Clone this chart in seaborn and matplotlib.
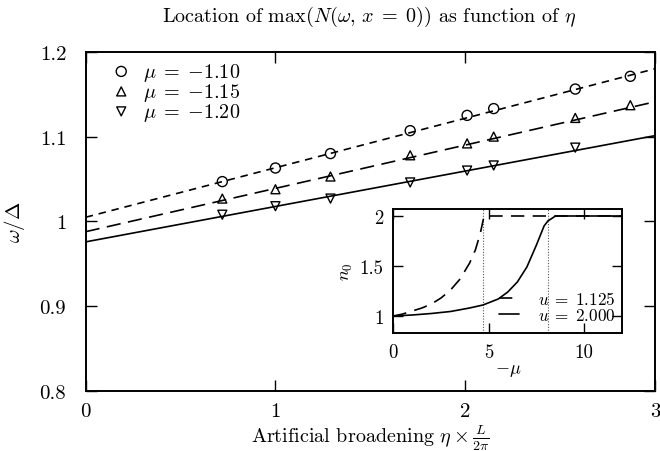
import numpy as np
import pandas as pd
import matplotlib
matplotlib.use("Agg")
import matplotlib.pyplot as plt
from matplotlib.ticker import FuncFormatter, FixedLocator
import seaborn as sns

# --- measured peak positions ---------------------------------------------
eta = [0.72, 1.00, 1.29, 1.71, 2.01, 2.15, 2.58, 2.87]
peak_mu110 = [1.047, 1.063, 1.080, 1.107, 1.125, 1.133, 1.156, 1.171]
peak_mu115 = [1.027, 1.038, 1.053, 1.078, 1.092, 1.100, 1.122, 1.137]
peak_mu120 = [1.008, 1.018, 1.027, 1.046, 1.060, 1.066, 1.087]
series_labels = [r"$\mu\;=\;{-}1.10$", r"$\mu\;=\;{-}1.15$", r"$\mu\;=\;{-}1.20$"]

# linear fits omega/Delta = a + b * eta
fit_intercept = [1.005, 0.988, 0.976]
fit_slope = [0.0583, 0.0510, 0.0417]

# --- inset: occupation n0 versus -mu ------------------------------------
inset_x_u1 = [0.0, 0.5, 1.0, 1.5, 2.0, 2.5, 3.0, 3.5, 4.0, 4.3, 4.55, 4.7, 4.75, 12.0]
inset_n_u1 = [1.0, 1.02, 1.05, 1.08, 1.12, 1.18, 1.26, 1.37, 1.53, 1.66, 1.82, 1.95, 2.0, 2.0]
inset_x_u2 = [0.0, 1.0, 2.0, 3.0, 4.0, 4.7, 5.5, 6.0, 6.5, 7.0, 7.5, 7.9, 8.1, 8.5, 12.0]
inset_n_u2 = [1.0, 1.01, 1.025, 1.045, 1.08, 1.11, 1.17, 1.24, 1.34, 1.49, 1.71, 1.90, 1.95, 2.0, 2.0]
inset_labels = [r"$u\;=\;1.125$", r"$u\;=\;2.000$"]
critical_mu = [4.7, 8.1]

sns.set_theme(style="ticks")
plt.rcParams.update({
    "font.family": ["cmr10"],
    "mathtext.fontset": "cm",
    "axes.formatter.use_mathtext": True,
    "axes.unicode_minus": True,
    "font.size": 14,
    "axes.linewidth": 1.4,
    "xtick.direction": "in",
    "ytick.direction": "in",
    "xtick.top": True,
    "ytick.right": True,
    "xtick.major.size": 8,
    "ytick.major.size": 8,
    "xtick.major.width": 1.0,
    "ytick.major.width": 1.0,
    "xtick.color": "black",
    "ytick.color": "black",
    "axes.edgecolor": "black",
    "text.color": "black",
    "axes.labelcolor": "black",
})

fig = plt.figure(figsize=(6.6, 4.52), dpi=100)
ax = fig.add_axes([0.1298, 0.1321, 0.8626, 0.7513])

# fitted lines
line_styles = [(0, (4.5, 3.5)), (0, (8.5, 4.5)), "-"]
xfit = np.array([0.0, 3.0])
for a, b, ls in zip(fit_intercept, fit_slope, line_styles):
    df = pd.DataFrame({"x": xfit, "y": a + b * xfit})
    sns.lineplot(data=df, x="x", y="y", ax=ax, color="black", lw=1.2,
                 linestyle=ls, legend=False)

# measured points
markers = ["o", "^", "v"]
sizes = [52, 42, 42]
for vals, mk, sz, lab in zip([peak_mu110, peak_mu115, peak_mu120],
                             markers, sizes, series_labels):
    df = pd.DataFrame({"x": eta[:len(vals)], "y": vals})
    sns.scatterplot(data=df, x="x", y="y", ax=ax, marker=mk, s=sz,
                    facecolor="none", edgecolor="black", linewidth=1.0,
                    label=lab, zorder=3)

ax.set_xlim(0, 3)
ax.set_ylim(0.8, 1.2)
ax.xaxis.set_major_locator(FixedLocator([0, 1, 2, 3]))
ax.yaxis.set_major_locator(FixedLocator([0.8, 0.9, 1.0, 1.1, 1.2]))
fmt = FuncFormatter(lambda v, p: "%g" % round(v, 3))
ax.xaxis.set_major_formatter(fmt)
ax.yaxis.set_major_formatter(fmt)
ax.tick_params(axis="y", labelsize=15, pad=14)
ax.tick_params(axis="x", labelsize=15, pad=8)
ax.set_xlabel(r"Artificial broadening $\eta \times \frac{L}{2\pi}$", fontsize=14.5, labelpad=1)
ax.set_ylabel(r"$\omega/\Delta$", fontsize=15, labelpad=9)
fig.text(0.56, 0.962, r"Location of $\max(N(\omega,\, x\;=\;0))$ as function of $\eta$",
         fontsize=14.5, ha="center", va="center")

leg = ax.legend(loc="upper left", bbox_to_anchor=(0.02, 1.015), frameon=False,
                handlelength=1.0, handletextpad=0.6, labelspacing=-0.1,
                borderpad=0.2, fontsize=14.5)

# --- inset ---------------------------------------------------------------
ins = fig.add_axes([0.5959, 0.2611, 0.347, 0.2743])
for xc in critical_mu:
    ins.axvline(xc, color="0.35", lw=0.8, linestyle=(0, (1, 1.5)))
sns.lineplot(x=inset_x_u1, y=inset_n_u1, ax=ins, color="black", lw=1.2,
             linestyle=(0, (8, 5)), label=inset_labels[0], sort=False)
sns.lineplot(x=inset_x_u2, y=inset_n_u2, ax=ins, color="black", lw=1.2,
             linestyle="-", label=inset_labels[1], sort=False)
ins.set_xlim(0, 12)
ins.set_ylim(0.83, 2.07)
ins.xaxis.set_major_locator(FixedLocator([0, 5, 10]))
ins.yaxis.set_major_locator(FixedLocator([1, 1.5, 2]))
ins.xaxis.set_major_formatter(fmt)
ins.yaxis.set_major_formatter(fmt)
ins.tick_params(axis="both", labelsize=13.5, pad=7, length=7)
ins.set_xlabel(r"$-\mu$", fontsize=13, labelpad=1)
ins.set_ylabel(r"$n_0$", fontsize=13, labelpad=3)
ins.legend(loc="lower right", bbox_to_anchor=(1.015, 0.0), frameon=False,
           handlelength=1.15, handletextpad=1.1, labelspacing=0.0,
           borderpad=0.1, fontsize=12.3)

fig.savefig("out.png", dpi=100)
